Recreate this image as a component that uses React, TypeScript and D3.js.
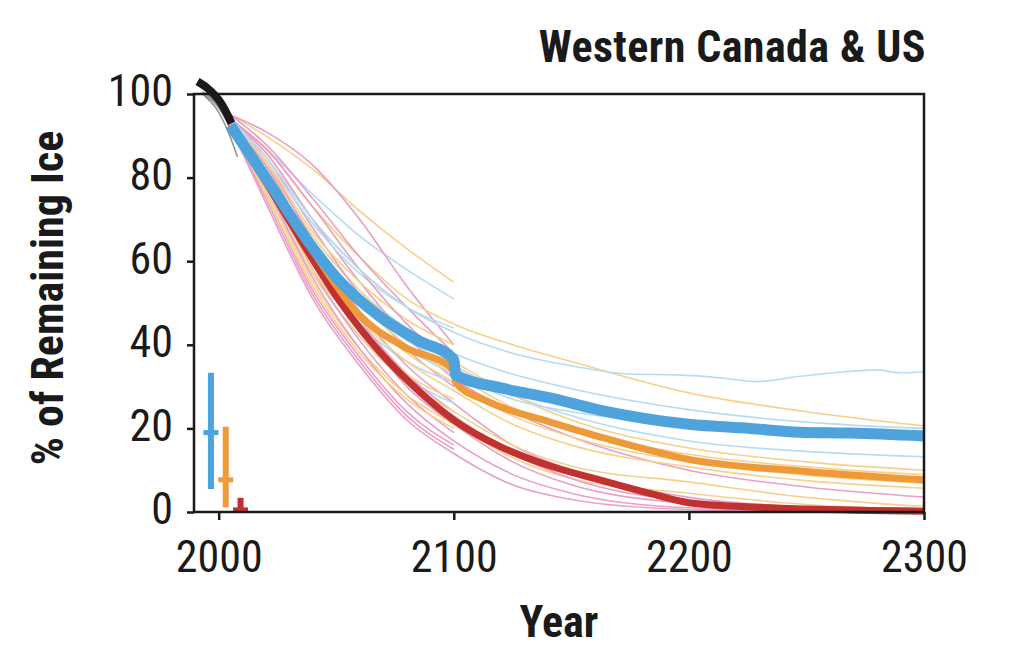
import React, { useRef, useEffect } from "react";
import * as d3 from "d3";

// year grid shared by the ensemble members (first 6 = to 2100, rest = extension to 2300)
const ensYears = [2005, 2020, 2040, 2060, 2080, 2100, 2125, 2150, 2200, 2250, 2300];

// thin ensemble members, SSP1-2.6 (light blue)
const blueRuns: number[][] = [
  [94, 87, 76, 66, 58, 51],
  [93, 83, 66, 53, 44, 38, 33, 29.5, 24.5, 21.5, 20],
  [93, 81, 63, 50, 41, 35, 28, 23, 17, 14.5, 13.2],
  [93, 80, 61, 47, 39, 33, 27, 24, 21, 19.8, 19.3],
  [93, 79, 60, 45, 36, 31],
  [92, 77, 57, 42, 32, 26],
  [94, 84, 69, 57, 49, 44],
];
// the one light blue run that levels off near 33 %
const blueHighYears = [2005, 2020, 2040, 2060, 2080, 2100, 2125, 2150, 2175, 2195, 2215, 2229, 2245, 2265, 2280, 2290, 2300];
const blueHighVals = [94, 85, 70, 58, 49, 43, 38, 35, 33, 32.8, 32, 31.2, 32.3, 33.5, 34, 33.3, 33.5];

// SSP2-4.5 (light orange)
const orangeRuns: number[][] = [
  [95, 90, 82, 72, 63, 55],
  [94, 87, 73, 61, 51, 45, 40, 36, 28.5, 24, 20.6],
  [94, 86, 70, 58, 49, 43],
  [93, 83, 66, 53, 43, 36, 28, 22, 15.3, 12, 10],
  [93, 82, 64, 50, 40, 33, 25, 20, 13.8, 10.8, 8.9],
  [93, 81, 62, 48, 38, 31, 23, 18, 12, 8.8, 6.9],
  [92, 80, 60, 46, 36, 29, 21, 16, 10.8, 7.5, 5.7],
  [92, 78, 57, 42, 31, 24, 16, 11, 7.2, 3.5, 1.3],
  [92, 77, 55, 39, 28, 21, 13, 8, 4.5, 1.8, 0.5],
  [92, 79, 58, 44, 33, 27],
  [92, 76, 54, 38, 27, 20],
  [93, 84, 67, 55, 46, 40],
];

// SSP5-8.5 (pink)
const pinkRuns: number[][] = [
  [95, 91, 83, 70, 54, 40],
  [95, 88, 75, 61, 49, 38],
  [94, 86, 70, 55, 42, 32, 24, 18, 10, 6, 3.6],
  [94, 85, 68, 52, 39, 30],
  [94, 84, 65, 48, 35, 26, 16, 10, 3.5, 1.2, 0.4],
  [93, 83, 63, 46, 33, 24],
  [93, 82, 61, 44, 30, 21, 12, 6.5, 2, 0.6, 0.2],
  [93, 80, 58, 41, 28, 19],
  [92, 78, 56, 39, 26, 17, 9, 4.5, 1, 0.3, 0.1],
  [92, 76, 53, 37, 24, 16],
  [92, 74, 51, 35, 22, 14, 6.5, 3, 0.6, 0.2, 0.1],
  [93, 81, 60, 43, 31, 23, 14, 8, 2.5, 0.8, 0.3],
  [94, 87, 73, 58, 45, 35],
  [92, 75, 52, 36, 23, 15],
];

// short grey runs around the observation period
const greyRuns: [number, number][][] = [
  [[1993, 100], [1998, 98], [2003, 94], [2008, 88]],
  [[1994, 99.5], [1999, 96.5], [2004, 91], [2008, 85]],
  [[1995, 100], [2000, 97], [2005, 93.5], [2007, 91]],
  [[1993, 100.5], [1997, 99], [2002, 95], [2007, 89]],
];

// observed
const obsYears = [1991, 1995, 2001, 2005.5];
const obsVals = [103, 101.5, 97.8, 93];

// ensemble means (step at 2100 where members drop out)
const blueMeanYears = [2005, 2020, 2039, 2051, 2068, 2085, 2100, 2100.8, 2120, 2141, 2162, 2200, 2226, 2247, 2269, 2300];
const blueMeanVals = [92.5, 80, 64, 55.5, 47, 41, 36.5, 32.8, 29.7, 27.3, 24.4, 21, 20, 19.1, 18.9, 18.2];
const orangeMeanYears = [2005, 2020, 2040, 2060, 2079, 2100, 2100.8, 2113, 2141, 2162, 2200, 2250, 2300];
const orangeMeanVals = [92.5, 80, 62.5, 47, 39.5, 34, 30.9, 26.8, 21.5, 18, 12.6, 9.7, 7.7];
const redMeanYears = [2005, 2020, 2035, 2052, 2069, 2086, 2100, 2120, 2141, 2162, 2183, 2200, 2226, 2250, 2300];
const redMeanVals = [92.5, 79, 65, 50, 38, 28.5, 22, 15.6, 11, 7.7, 4.5, 2.2, 1.2, 0.7, 0.2];

// 2300 spread markers: [x-year, low, median, high]
const spreadYears = [1996.7, 2003, 2009.3];
const spreadLow = [5.5, 1.1, 0];
const spreadMid = [19, 7.7, 0.5];
const spreadHigh = [33.3, 20.4, 3.4];
const spreadColors = ["#4fa3dc", "#ee9a3a", "#c0312f"];

const yTicks = [0, 20, 40, 60, 80, 100];
const xTicks = [2000, 2100, 2200, 2300];

const FONT = "'Liberation Sans Narrow', 'Roboto Condensed', 'DejaVu Sans Condensed', sans-serif";

const W = 1025;
const H = 672;

const App: React.FC = () => {
  const svgRef = useRef<SVGSVGElement>(null);

  useEffect(() => {
    const svg = d3.select(svgRef.current);
    svg.selectAll("*").remove();

    const x = d3.scaleLinear().domain([1989.5, 2300]).range([194, 924]);
    const y = d3.scaleLinear().domain([0, 100]).range([512, 94]);

    const line = d3
      .line<[number, number]>()
      .x(d => x(d[0]))
      .y(d => y(d[1]))
      .curve(d3.curveMonotoneX);

    const zipGrid = (vals: number[]) => vals.map((v, i) => [ensYears[i], v] as [number, number]);
    const zip = (ys: number[], vs: number[]) => ys.map((yr, i) => [yr, vs[i]] as [number, number]);

    const thin = svg.append("g").attr("fill", "none").attr("stroke-width", 1.6);

    greyRuns.forEach(r =>
      thin.append("path").attr("d", line(r)).attr("stroke", "#8f8f8f").attr("stroke-width", 1.5)
    );

    // interleave colours so no family sits wholly on top
    const n = Math.max(blueRuns.length, orangeRuns.length, pinkRuns.length);
    for (let i = 0; i < n; i++) {
      if (orangeRuns[i]) thin.append("path").attr("d", line(zipGrid(orangeRuns[i]))).attr("stroke", "#f8d08a");
      if (blueRuns[i]) thin.append("path").attr("d", line(zipGrid(blueRuns[i]))).attr("stroke", "#b5dcf2");
      if (pinkRuns[i]) thin.append("path").attr("d", line(zipGrid(pinkRuns[i]))).attr("stroke", "#e99fc7");
    }
    thin.append("path").attr("d", line(zip(blueHighYears, blueHighVals))).attr("stroke", "#b5dcf2");

    // means
    const means = svg.append("g").attr("fill", "none").attr("stroke-linejoin", "round");
    means.append("path").attr("d", line(zip(redMeanYears, redMeanVals))).attr("stroke", "#c0312f").attr("stroke-width", 7);
    means.append("path").attr("d", line(zip(orangeMeanYears, orangeMeanVals))).attr("stroke", "#ee9a3a").attr("stroke-width", 7);
    means.append("path").attr("d", line(zip(blueMeanYears, blueMeanVals))).attr("stroke", "#4fa3dc").attr("stroke-width", 11);
    means
      .append("path")
      .attr("d", line(zip(obsYears, obsVals)))
      .attr("stroke", "#1a1a1a")
      .attr("stroke-width", 8);

    // spread bars
    const bars = svg.append("g");
    spreadYears.forEach((yr, i) => {
      const cx = x(yr);
      bars.append("rect")
        .attr("x", cx - 3).attr("width", 6)
        .attr("y", y(spreadHigh[i])).attr("height", y(spreadLow[i]) - y(spreadHigh[i]))
        .attr("fill", spreadColors[i]);
      bars.append("rect")
        .attr("x", cx - 7.5).attr("width", 15)
        .attr("y", y(spreadMid[i]) - 2.5).attr("height", 5)
        .attr("fill", spreadColors[i]);
    });

    // frame
    svg.append("rect")
      .attr("x", 194).attr("y", 94).attr("width", 730).attr("height", 418)
      .attr("fill", "none").attr("stroke", "#1a1a1a").attr("stroke-width", 2.5);

    const yAxis = svg.append("g")
      .attr("transform", "translate(194,0)")
      .call(d3.axisLeft(y).tickValues(yTicks).tickSize(7).tickPadding(14).tickFormat(d3.format("d")));
    const xAxis = svg.append("g")
      .attr("transform", "translate(0,512)")
      .call(d3.axisBottom(x).tickValues(xTicks).tickSize(8).tickPadding(21).tickFormat(d3.format("d")));

    [yAxis, xAxis].forEach(a => {
      a.select(".domain").remove();
      a.selectAll(".tick line").attr("stroke", "#1a1a1a").attr("stroke-width", 2.5);
      a.selectAll(".tick text")
        .attr("fill", "#1a1a1a")
        .style("font-family", FONT)
        .style("font-size", "44px");
    });
    yAxis.selectAll(".tick text").attr("dy", "0.27em");

    svg.append("text")
      .attr("x", 926).attr("y", 62)
      .attr("text-anchor", "end")
      .style("font-family", FONT).style("font-size", "44px").style("font-weight", "bold")
      .style("letter-spacing", "0.4px")
      .attr("fill", "#1a1a1a")
      .text("Western Canada & US");

    svg.append("text")
      .attr("x", 559).attr("y", 637)
      .attr("text-anchor", "middle")
      .style("font-family", FONT).style("font-size", "44px").style("font-weight", "bold")
      .attr("fill", "#1a1a1a")
      .text("Year");

    svg.append("text")
      .attr("transform", "translate(63,298) rotate(-90)")
      .attr("text-anchor", "middle")
      .style("font-family", FONT).style("font-size", "44px").style("font-weight", "bold")
      .attr("fill", "#1a1a1a")
      .text("% of Remaining Ice");
  }, []);

  return (
    <svg
      ref={svgRef}
      width={W}
      height={H}
      style={{ position: "absolute", left: 0, top: 0, background: "#fff" }}
    />
  );
};

export default App;
